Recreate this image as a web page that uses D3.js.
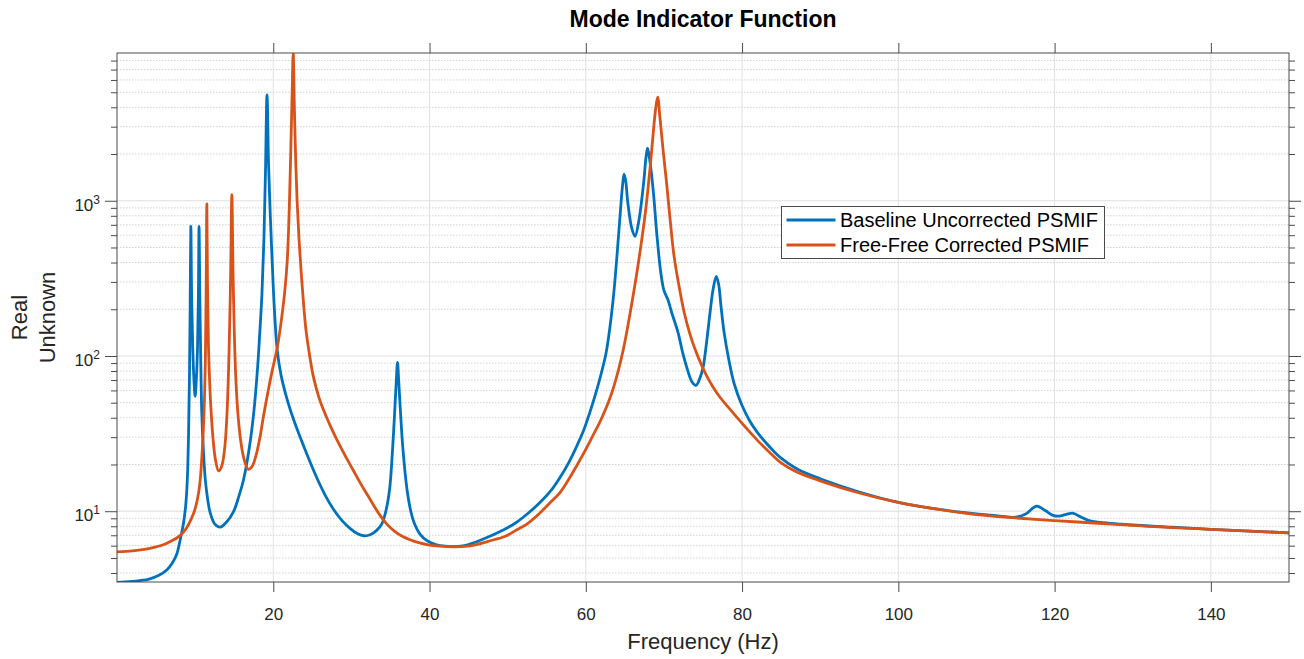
<!DOCTYPE html>
<html><head><meta charset="utf-8">
<script src="https://cdn.jsdelivr.net/npm/d3@7"></script>
<style>
body{margin:0;background:#fff;}
svg{display:block;font-family:"Liberation Sans",Arial,Helvetica,sans-serif;}
</style>
</head><body>
<svg id="chart" width="1304" height="659"></svg>
<script>
// ---------- data ----------
const titleText = "Mode Indicator Function";
const xLabelText = "Frequency (Hz)";
const yLabelLines = ["Real", "Unknown"];
const seriesNames = ["Baseline Uncorrected PSMIF", "Free-Free Corrected PSMIF"];
const seriesColors = ["#0072BD", "#D95319"];
const xTickValues = [20, 40, 60, 80, 100, 120, 140];
const yMajorTickValues = [10, 100, 1000];
const yMajorTickExponents = ["1", "2", "3"];
const yMinorTickValues = [4,5,6,7,8,9,20,30,40,50,60,70,80,90,200,300,400,500,600,700,800,900,2000,3000,4000,5000,6000,7000,8000];
const xDomain = [0, 150];
const yDomain = [3.5, 8950];

// [frequency Hz, PSMIF magnitude]
const baselinePSMIF = [
[0,3.48],[1,3.5],[2,3.53],[3,3.58],[4,3.64],[5.3,3.85],[6.4,4.2],[7.1,4.65],[7.65,5.3],[8.1,6.6],[8.5,8.3],[8.8,11],[9.0,16],[9.15,30],[9.27,71],[9.36,200],[9.45,684],[9.55,250],[9.7,110],[9.85,70],[10.0,55],[10.15,70],[10.3,110],[10.42,250],[10.5,684],[10.6,250],[10.7,110],[10.85,43],[11.05,25],[11.3,16],[11.6,12],[11.9,9.9],[12.5,8.3],[13.2,7.9],[14.0,8.5],[14.9,9.9],[15.6,12.5],[16.2,16],[16.9,25],[17.5,43],[18.0,85],[18.3,148],[18.55,250],[18.8,560],[19.0,1500],[19.2,4810],[19.4,1700],[19.62,800],[19.85,420],[20.1,220],[20.5,110],[21.0,75],[21.8,52],[22.6,39],[23.5,29.5],[24.5,22],[25.6,16.3],[26.6,12.8],[27.7,10.3],[28.8,8.7],[29.9,7.7],[30.8,7.15],[31.6,6.95],[32.4,7.05],[33.2,7.5],[33.9,8.3],[34.5,10.5],[34.9,14],[35.2,22],[35.5,40],[35.75,70],[35.9,91],[36.05,70],[36.3,42],[36.6,25],[37.1,14],[37.6,10],[38.0,8.5],[38.8,7.1],[39.7,6.45],[40.8,6.1],[42,5.95],[43,5.92],[44,5.95],[45,6.1],[46.5,6.5],[48,7.0],[49.5,7.6],[51,8.4],[52.5,9.6],[54,11.2],[55.5,13.5],[56.7,16.5],[57.8,20.5],[58.8,26],[59.7,33],[60.5,43],[61.3,58],[62.0,78],[62.6,105],[63.1,155],[63.6,260],[64.0,450],[64.4,820],[64.7,1250],[64.9,1485],[65.1,1350],[65.4,950],[65.9,660],[66.3,590],[66.8,750],[67.4,1300],[67.7,1900],[67.9,2180],[68.1,1950],[68.4,1500],[68.7,1065],[69.1,600],[69.6,344],[70.0,265],[70.5,231],[71.0,190],[71.8,142],[72.4,105],[73.0,82],[73.6,68],[74.1,64.6],[74.6,72],[75.0,84],[75.4,116],[75.9,190],[76.3,270],[76.7,326],[77.0,290],[77.3,210],[77.7,142],[78.3,95],[79.0,66],[80.0,48],[81,38],[82,32],[83,27.8],[84,24.5],[85,22],[87,18.8],[90,16.2],[95,13.3],[100,11.4],[105,10.3],[110,9.6],[113,9.3],[115,9.15],[116.3,9.6],[117.7,10.8],[118.8,10.1],[119.8,9.4],[120.6,9.3],[121.5,9.55],[122.4,9.7],[123.3,9.2],[124.3,8.75],[125.5,8.5],[128,8.3],[130,8.15],[135,7.9],[140,7.65],[145,7.45],[150,7.25]
];
const correctedPSMIF = [
[0,5.47],[2,5.55],[3.5,5.68],[5,5.9],[6,6.1],[7,6.45],[7.7,6.75],[8.3,7.15],[8.9,7.8],[9.4,8.7],[9.9,10.0],[10.3,12],[10.6,15],[10.9,24],[11.15,45],[11.3,90],[11.42,300],[11.5,956],[11.58,300],[11.7,120],[11.85,70],[12.0,48],[12.3,29],[12.6,21.5],[13.0,18.2],[13.4,19.5],[13.8,26],[14.1,45],[14.35,110],[14.55,350],[14.7,1093],[14.85,350],[15.05,120],[15.3,58],[15.6,36],[16.0,25],[16.4,20.5],[16.8,18.6],[17.3,19.5],[17.8,23],[18.3,30],[18.75,41],[19.3,58],[19.9,82],[20.5,112],[21.1,180],[21.5,270],[21.8,420],[22.05,900],[22.25,2200],[22.42,5000],[22.55,8950],[22.7,4000],[22.85,2000],[23.05,1000],[23.3,560],[23.6,330],[23.9,210],[24.2,145],[24.6,105],[25.1,75],[25.8,55],[26.5,44],[27.3,35.5],[28.2,28.5],[29.2,22.8],[30.2,18.5],[31.2,15],[32.2,12.4],[33.0,10.6],[33.8,9.2],[34.6,8.2],[35.5,7.45],[36.5,6.9],[37.5,6.55],[38.5,6.3],[40,6.05],[41.5,5.95],[43,5.9],[44.5,5.93],[46,6.1],[47.5,6.4],[49.7,6.9],[51,7.5],[52.5,8.3],[54,9.6],[55.4,11.3],[56.7,13.2],[57.8,16],[58.8,19.5],[59.7,23.5],[60.5,28],[61.3,33.5],[61.9,38.5],[62.5,45],[63.0,52],[63.6,64],[64.2,82],[64.8,110],[65.3,148],[65.8,205],[66.3,290],[66.8,420],[67.2,580],[67.6,820],[67.95,1180],[68.3,1780],[68.65,2800],[68.95,3950],[69.2,4650],[69.5,3400],[69.9,2100],[70.3,1365],[70.8,750],[71.3,438],[72.0,270],[72.6,190],[73.3,140],[74.0,110],[74.7,90],[75.5,74],[76.3,63],[77.2,54],[78.2,47],[79.2,41],[80.5,34.5],[82,28.5],[83.5,24],[85,20.5],[87,17.9],[90,15.7],[95,13.1],[100,11.4],[105,10.3],[110,9.5],[115,9.05],[120,8.7],[125,8.4],[130,8.1],[135,7.85],[140,7.65],[145,7.45],[150,7.25]
];

// ---------- layout ----------
const W = 1304, H = 659;
const m = {left: 117, right: 15, top: 53, bottom: 77};
const pw = W - m.left - m.right, ph = H - m.top - m.bottom;
const axisColor = "#4a4a4a", textColor = "#262626";

const svg = d3.select("#chart");
const x = d3.scaleLinear().domain(xDomain).range([m.left, m.left + pw]);
const y = d3.scaleLog().domain(yDomain).range([m.top + ph, m.top]);

// grid
const grid = svg.append("g");
grid.selectAll(".gx").data(xTickValues).join("line")
  .attr("x1", d => x(d)).attr("x2", d => x(d)).attr("y1", m.top).attr("y2", m.top + ph)
  .attr("stroke", "#e2e2e2").attr("stroke-width", 1);
grid.selectAll(".gym").data(yMinorTickValues).join("line")
  .attr("x1", m.left).attr("x2", m.left + pw).attr("y1", d => y(d)).attr("y2", d => y(d))
  .attr("stroke", "#d2d2d2").attr("stroke-width", 1).attr("stroke-dasharray", "1.5,1.5");
grid.selectAll(".gyM").data(yMajorTickValues).join("line")
  .attr("x1", m.left).attr("x2", m.left + pw).attr("y1", d => y(d)).attr("y2", d => y(d))
  .attr("stroke", "#e0e0e0").attr("stroke-width", 1.2);

// clip
svg.append("clipPath").attr("id", "clip").append("rect")
  .attr("x", m.left).attr("y", m.top).attr("width", pw).attr("height", ph);

const line = d3.line().x(d => x(d[0])).y(d => y(d[1])).curve(d3.curveCatmullRom.alpha(0.5));
const lines = svg.append("g").attr("clip-path", "url(#clip)");
[baselinePSMIF, correctedPSMIF].forEach((s, i) => {
  lines.append("path").datum(s).attr("d", line)
    .attr("fill", "none").attr("stroke", seriesColors[i]).attr("stroke-width", 2.8)
    .attr("stroke-linejoin", "round").attr("stroke-linecap", "round");
});

// axes
function styleAxis(g) {
  g.select(".domain").remove();
  g.selectAll(".tick line").attr("stroke", axisColor);
  g.selectAll(".tick text").attr("fill", textColor);
}
svg.append("g").attr("transform", `translate(0,${m.top + ph})`)
  .call(d3.axisBottom(x).tickValues(xTickValues).tickSize(10).tickPadding(16).tickFormat(d3.format("d")))
  .call(styleAxis).selectAll("text").attr("font-size", 17).attr("font-family", null);
svg.append("g").attr("transform", `translate(0,${m.top})`)
  .call(d3.axisTop(x).tickValues(xTickValues).tickSize(10).tickFormat(""))
  .call(styleAxis);
svg.append("g").attr("transform", `translate(${m.left},0)`)
  .call(d3.axisLeft(y).tickValues(yMajorTickValues).tickSize(12).tickFormat(""))
  .call(styleAxis);
svg.append("g").attr("transform", `translate(${m.left},0)`)
  .call(d3.axisLeft(y).tickValues(yMinorTickValues).tickSize(6).tickFormat(""))
  .call(styleAxis);
svg.append("g").attr("transform", `translate(${m.left + pw},0)`)
  .call(d3.axisRight(y).tickValues(yMajorTickValues).tickSize(12).tickFormat(""))
  .call(styleAxis);
svg.append("g").attr("transform", `translate(${m.left + pw},0)`)
  .call(d3.axisRight(y).tickValues(yMinorTickValues).tickSize(6).tickFormat(""))
  .call(styleAxis);

// y tick labels 10^n
const yl = svg.append("g");
yMajorTickValues.forEach((v, i) => {
  const t = yl.append("text").attr("x", 100).attr("y", y(v) + 10)
    .attr("text-anchor", "end").attr("fill", textColor);
  t.append("tspan").attr("font-size", 17).text("10");
  t.append("tspan").attr("font-size", 12).attr("dy", -7).text(yMajorTickExponents[i]);
});

// box
svg.append("rect").attr("x", m.left).attr("y", m.top).attr("width", pw).attr("height", ph)
  .attr("fill", "none").attr("stroke", axisColor).attr("stroke-width", 1);

// title & labels
svg.append("text").attr("x", m.left + pw / 2).attr("y", 27).attr("text-anchor", "middle")
  .attr("font-size", 23).attr("font-weight", "bold").attr("fill", "#000").text(titleText);
svg.append("text").attr("x", m.left + pw / 2).attr("y", 649).attr("text-anchor", "middle")
  .attr("font-size", 22).attr("fill", textColor).text(xLabelText);
const ylx = [27, 55];
yLabelLines.forEach((s, i) => {
  svg.append("text").attr("transform", `translate(${ylx[i]},${m.top + ph / 2}) rotate(-90)`)
    .attr("text-anchor", "middle").attr("font-size", 22).attr("fill", textColor).text(s);
});

// legend
const lg = svg.append("g").attr("transform", "translate(781.5,206.5)");
lg.append("rect").attr("width", 323).attr("height", 52).attr("fill", "#fff")
  .attr("stroke", axisColor).attr("stroke-width", 1);
seriesNames.forEach((n, i) => {
  const cy = 13.5 + i * 25;
  lg.append("line").attr("x1", 5).attr("x2", 54).attr("y1", cy).attr("y2", cy)
    .attr("stroke", seriesColors[i]).attr("stroke-width", 2.8);
  lg.append("text").attr("x", 58.5).attr("y", cy + 7).attr("font-size", 20)
    .attr("fill", "#000").text(n);
});
</script>
</body></html>
